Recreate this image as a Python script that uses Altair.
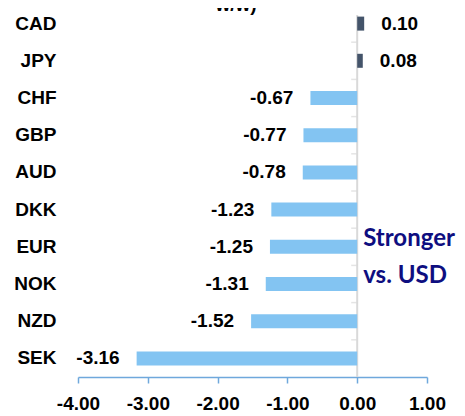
import altair as alt
import pandas as pd

currencies = ["CAD", "JPY", "CHF", "GBP", "AUD", "DKK", "EUR", "NOK", "NZD", "SEK"]
changes = [0.10, 0.08, -0.67, -0.77, -0.78, -1.23, -1.25, -1.31, -1.52, -3.16]
x_ticks = [-4, -3, -2, -1, 0, 1]
title_tail = "w/w)"
note_lines = ["Stronger", "vs. USD"]
note_rows = ["DKK", "EUR"]

df = pd.DataFrame({"cur": currencies, "chg": changes})
df["lab"] = [f"{v:.2f}" for v in changes]
df["pos"] = df["chg"] >= 0

FONT = "Liberation Sans"
FS = 19
W, H = 349, 369
TOP = -3
BAND = (H - TOP) / len(currencies)

yscale = alt.Scale(domain=currencies, range=[TOP, H], paddingInner=0, paddingOuter=0)
xscale = alt.Scale(domain=[-4, 1], nice=False, zero=False)

base = alt.Chart(df)

bars = base.mark_bar(size=14).encode(
    x=alt.X("chg:Q", scale=xscale,
            axis=alt.Axis(values=x_ticks, title=None, grid=False,
                          labelExpr="(datum.value < 0 ? '-' : '') + format(abs(datum.value), '.2f')",
                          domainColor="#6FA8DC", tickColor="#6FA8DC", tickSize=6,
                          domainWidth=1.5, tickWidth=1.5, labelOverlap=False, labelFlush=False,
                          labelFont=FONT, labelFontSize=FS, labelFontWeight="bold",
                          labelColor="#000000", labelPadding=11)),
    y=alt.Y("cur:N", scale=yscale, sort=currencies,
            axis=alt.Axis(title=None, domain=False, ticks=False, labelFont=FONT,
                          labelFontSize=FS, labelFontWeight="bold", labelColor="#000000",
                          labelPadding=22)),
    color=alt.Color("pos:N", scale=alt.Scale(domain=[True, False], range=["#44546A", "#83C4F2"]),
                    legend=None),
)

zero_line = alt.Chart(pd.DataFrame({"z": [0]})).mark_rule(color="#D9D9D9", strokeWidth=2).encode(
    x=alt.X("z:Q", scale=xscale), y=alt.value(7), y2=alt.value(H)
)

seps = base.mark_tick(orient="horizontal", color="#D9D9D9", size=6, thickness=1.5,
                      yOffset=-BAND / 2, xOffset=-3).encode(
    x=alt.datum(0), y=alt.Y("cur:N", scale=yscale, sort=currencies)
)

neg_labels = base.transform_filter("datum.chg < 0").mark_text(
    align="right", baseline="middle", dx=-17, font=FONT, fontSize=FS, fontWeight="bold", color="#000000"
).encode(x="chg:Q", y=alt.Y("cur:N", sort=currencies), text="lab:N")

pos_labels = base.transform_filter("datum.chg >= 0").mark_text(
    align="left", baseline="middle", dx=17, font=FONT, fontSize=FS, fontWeight="bold", color="#000000"
).encode(x="chg:Q", y=alt.Y("cur:N", sort=currencies), text="lab:N")

note_df = pd.DataFrame({"t": note_lines, "row": note_rows, "x": [0, 0]})
note = alt.Chart(note_df).mark_text(
    align="left", baseline="middle", dx=6, dy=29, font="Lato", fontSize=24, fontWeight="bold",
    color="#0E0E80"
).encode(x="x:Q", y=alt.Y("row:N", sort=currencies), text="t:N")

ttl = alt.Chart(pd.DataFrame({"t": [title_tail]})).mark_text(
    align="center", baseline="alphabetic", font=FONT, fontSize=FS, fontWeight="bold", color="#000000"
).encode(x=alt.value(158), y=alt.value(3), text="t:N")

chart = alt.layer(zero_line, seps, bars, neg_labels, pos_labels, note, ttl).properties(
    width=W, height=H,
    autosize=alt.AutoSizeParams(type="none"),
    padding={"left": 70, "top": 0, "right": 30, "bottom": 39},
).configure_view(stroke=None)

chart.save("out.html", embed_options={"renderer": "svg", "actions": False})
